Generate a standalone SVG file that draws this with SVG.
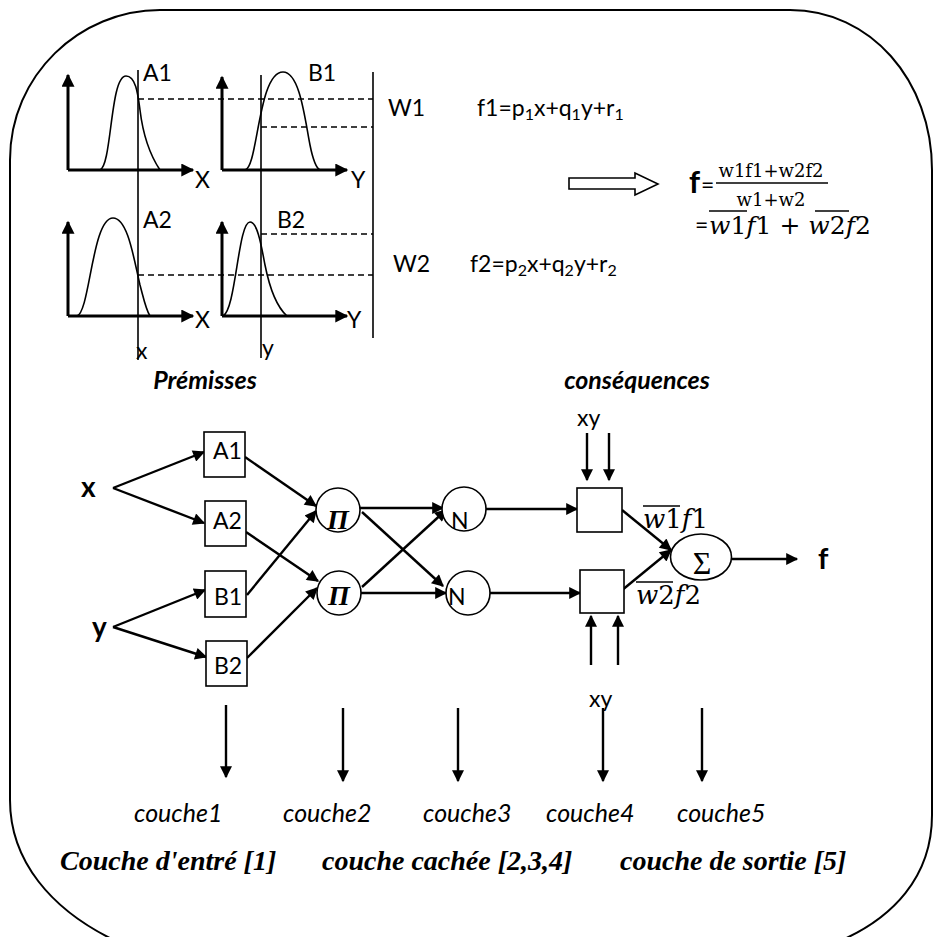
<svg xmlns="http://www.w3.org/2000/svg" width="935" height="937" viewBox="0 0 935 937">
<defs>
<marker id="ah" viewBox="0 0 10 10" refX="9" refY="5" markerWidth="15" markerHeight="12" markerUnits="userSpaceOnUse" orient="auto"><path d="M0,0 L10,5 L0,10 z" fill="#000"/></marker>
<marker id="ax" viewBox="0 0 10 10" refX="9" refY="5" markerWidth="15" markerHeight="13" markerUnits="userSpaceOnUse" orient="auto"><path d="M0,0 L10,5 L0,10 z" fill="#000"/></marker>
</defs>
<style>
.fr{stroke:#000;stroke-width:2;fill:none}
.ln{stroke:#000;stroke-width:1.6;fill:none}
.ax{stroke:#000;stroke-width:3;fill:none;marker-end:url(#ax)}
.cv{stroke:#000;stroke-width:1.6;fill:none}
.ds{stroke:#000;stroke-width:1.6;stroke-dasharray:6 4;fill:none}
.cn{stroke:#000;stroke-width:2.4;fill:none;marker-end:url(#ah)}
.nd{fill:#fff;stroke:#000;stroke-width:1.6}
.t{font-family:Lato,"Liberation Sans",sans-serif;fill:#000;font-size:23px}
.tb{font-family:Lato,"Liberation Sans",sans-serif;fill:#000;font-weight:bold}
.ti{font-family:Lato,"Liberation Sans",sans-serif;fill:#000;font-style:italic;font-size:25px}
.tbi{font-family:Lato,"Liberation Sans",sans-serif;fill:#000;font-weight:bold;font-style:italic;font-size:25px}
.sbi{font-family:"Liberation Serif",serif;fill:#000;font-weight:bold;font-style:italic;font-size:28px}
.m{font-family:"DejaVu Serif","Liberation Serif",serif;fill:#000}
.mi{font-style:italic}
.sub{font-size:16px}
</style>

<!-- outer frame -->
<path class="fr" d="M160,10 C80,10 10,75 10,160 V800 C10,860 50,910 118,942"/>
<path class="fr" d="M160,10 H790 C870,10 932,80 932,170 V815 C932,875 895,920 830,945"/>

<!-- membership function panels -->
<g id="panels">
<path class="ax" d="M68,170 V75"/><path class="ax" d="M68,170 H193"/>
<path class="ax" d="M222,170 V77"/><path class="ax" d="M222,170 H347"/>
<path class="ax" d="M68,316 V222"/><path class="ax" d="M68,316 H193"/>
<path class="ax" d="M222,316 V222"/><path class="ax" d="M222,316 H347"/>
<path class="cv" d="M100,170 C112,165 110,76 126,76 C136,76 138,95 140,110 C143,135 150,155 160,170"/>
<path class="cv" d="M245,170 C258,168 258,72 283,72 C300,72 305,120 310,145 C313,160 316,168 320,170"/>
<path class="cv" d="M77,316 C90,312 92,218 113,218 C128,218 134,260 140,285 C144,300 146,310 150,316"/>
<path class="cv" d="M223,316 C236,310 238,222 250,222 C258,222 262,250 265,265 C270,290 278,308 287,316"/>
<line class="ln" x1="138" y1="70" x2="138" y2="360"/>
<line class="ln" x1="261" y1="75" x2="261" y2="358"/>
<line class="ln" x1="373" y1="72" x2="373" y2="338"/>
<line class="ds" x1="138" y1="99" x2="373" y2="99"/>
<line class="ds" x1="261" y1="127" x2="373" y2="127"/>
<line class="ds" x1="261" y1="234" x2="373" y2="234"/>
<line class="ds" x1="138" y1="275" x2="373" y2="275"/>
<text class="t" x="143" y="81">A1</text>
<text class="t" x="308" y="81">B1</text>
<text class="t" x="143" y="228">A2</text>
<text class="t" x="277" y="228">B2</text>
<text class="t" x="195" y="188">X</text>
<text class="t" x="351" y="188">Y</text>
<text class="t" x="195" y="328">X</text>
<text class="t" x="347" y="328">Y</text>
<text class="t" x="136" y="359">x</text>
<text class="t" x="262" y="356">y</text>
<text class="t" x="388" y="116" font-size="24">W1</text>
<text class="t" x="393" y="272" font-size="24">W2</text>
<text class="t" x="477" y="116" font-size="25">f1=p<tspan class="sub" dy="4">1</tspan><tspan dy="-4">x+q</tspan><tspan class="sub" dy="4">1</tspan><tspan dy="-4">y+r</tspan><tspan class="sub" dy="4">1</tspan></text>
<text class="t" x="470" y="272" font-size="25">f2=p<tspan class="sub" dy="4">2</tspan><tspan dy="-4">x+q</tspan><tspan class="sub" dy="4">2</tspan><tspan dy="-4">y+r</tspan><tspan class="sub" dy="4">2</tspan></text>
</g>

<!-- result formula -->
<g id="formula">
<polygon points="569,178 635,178 635,173 658,184 635,195 635,189 569,189" fill="#fff" stroke="#000" stroke-width="1.6"/>
<text class="tb" x="689" y="193" font-size="31">f</text>
<text class="t" x="701" y="193" font-size="15">=</text>
<line x1="716" y1="183" x2="828" y2="183" stroke="#000" stroke-width="1.6"/>
<text class="m" x="771" y="177" font-size="18" text-anchor="middle">w1f1+w2f2</text>
<text class="m" x="771" y="206" font-size="18" text-anchor="middle">w1+w2</text>
<text class="t" x="695" y="233" font-size="15">=</text>
<text class="m" x="709" y="234" font-size="25"><tspan class="mi">w</tspan>1<tspan class="mi">f</tspan>1 + <tspan class="mi">w</tspan>2<tspan class="mi">f</tspan>2</text>
<line x1="709" y1="211" x2="747" y2="211" stroke="#000" stroke-width="1.3"/>
<line x1="815" y1="211" x2="849" y2="211" stroke="#000" stroke-width="1.3"/>
</g>

<text class="tbi" x="205" y="389" text-anchor="middle" font-size="27">Prémisses</text>
<text class="tbi" x="637" y="389" text-anchor="middle">conséquences</text>

<!-- connectors -->
<g id="connectors">
<line class="cn" x1="113" y1="488" x2="204" y2="452"/>
<line class="cn" x1="113" y1="488" x2="204" y2="523"/>
<line class="cn" x1="113" y1="627" x2="205" y2="590"/>
<line class="cn" x1="113" y1="627" x2="206" y2="657"/>
<line class="cn" x1="245" y1="457" x2="316" y2="506"/>
<line class="cn" x1="246" y1="532" x2="318" y2="581"/>
<line class="cn" x1="247" y1="595" x2="316" y2="511"/>
<line class="cn" x1="247" y1="658" x2="317" y2="588"/>
<line class="cn" x1="360" y1="508" x2="443" y2="508"/>
<line class="cn" x1="362" y1="512" x2="443" y2="586"/>
<line class="cn" x1="362" y1="587" x2="446" y2="510"/>
<line class="cn" x1="361" y1="593" x2="446" y2="593"/>
<line class="cn" x1="486" y1="509" x2="577" y2="509"/>
<line class="cn" x1="490" y1="593" x2="580" y2="593"/>
<line class="cn" x1="622" y1="510" x2="671" y2="550"/>
<line class="cn" x1="621" y1="591" x2="671" y2="550"/>
<line class="cn" x1="732" y1="559" x2="797" y2="559"/>
<line class="cn" x1="587" y1="433" x2="587" y2="480"/>
<line class="cn" x1="609" y1="433" x2="609" y2="480"/>
<line class="cn" x1="591" y1="665" x2="591" y2="616"/>
<line class="cn" x1="618" y1="665" x2="618" y2="616"/>
<line class="cn" x1="226" y1="705" x2="226" y2="777"/>
<line class="cn" x1="343" y1="708" x2="343" y2="781"/>
<line class="cn" x1="458" y1="708" x2="458" y2="781"/>
<line class="cn" x1="603" y1="708" x2="603" y2="781"/>
<line class="cn" x1="702" y1="708" x2="702" y2="781"/>
</g>

<!-- nodes -->
<g id="in-x"><text class="tb" x="81" y="497" font-size="28">x</text></g>
<g id="in-y"><text class="tb" x="92" y="637" font-size="28">y</text></g>
<g id="A1"><rect class="nd" x="204" y="432" width="41" height="45"/><text class="t" x="213" y="459">A1</text></g>
<g id="A2"><rect class="nd" x="205" y="501" width="41" height="45"/><text class="t" x="213" y="529">A2</text></g>
<g id="B1"><rect class="nd" x="205" y="571" width="41" height="46"/><text class="t" x="214" y="605">B1</text></g>
<g id="B2"><rect class="nd" x="206" y="641" width="41" height="45"/><text class="t" x="214" y="674">B2</text></g>
<g id="P1"><circle class="nd" cx="338" cy="510" r="22"/><text class="sbi" x="338" y="529" text-anchor="middle" font-size="27">Π</text></g>
<g id="P2"><circle class="nd" cx="339" cy="593" r="22"/><text class="sbi" x="339" y="605" text-anchor="middle" font-size="27">Π</text></g>
<g id="N1"><circle class="nd" cx="464" cy="509" r="22"/><text class="t" x="451" y="529">N</text></g>
<g id="N2"><circle class="nd" cx="468" cy="593" r="22"/><text class="t" x="448" y="605">N</text></g>
<g id="C1"><rect class="nd" x="577" y="488" width="45" height="44"/></g>
<g id="C2"><rect class="nd" x="580" y="570" width="44" height="43"/></g>
<g id="S"><ellipse class="nd" cx="701" cy="557" rx="30.5" ry="23"/><text x="702" y="574" text-anchor="middle" font-family="Liberation Serif,serif" font-size="32">Σ</text></g>
<g id="out-f"><text class="tb" x="818" y="569" font-size="29">f</text></g>
<text class="t" x="577" y="426">xy</text>
<text class="t" x="589" y="707">xy</text>
<g id="lbl-w1f1"><text class="m" x="643" y="528" font-size="26"><tspan class="mi">w</tspan>1<tspan class="mi">f</tspan>1</text><line x1="643" y1="506" x2="680" y2="506" stroke="#000" stroke-width="1.3"/></g>
<g id="lbl-w2f2"><text class="m" x="636" y="604" font-size="26"><tspan class="mi">w</tspan>2<tspan class="mi">f</tspan>2</text><line x1="636" y1="582" x2="673" y2="582" stroke="#000" stroke-width="1.3"/></g>

<!-- layer labels -->
<text class="ti" x="134" y="822">couche1</text>
<text class="ti" x="283" y="822">couche2</text>
<text class="ti" x="423" y="822">couche3</text>
<text class="ti" x="546" y="822">couche4</text>
<text class="ti" x="677" y="822">couche5</text>
<text class="sbi" x="60" y="870">Couche d'entré [1]</text>
<text class="sbi" x="322" y="870">couche cachée [2,3,4]</text>
<text class="sbi" x="620" y="870">couche de sortie [5]</text>
</svg>
